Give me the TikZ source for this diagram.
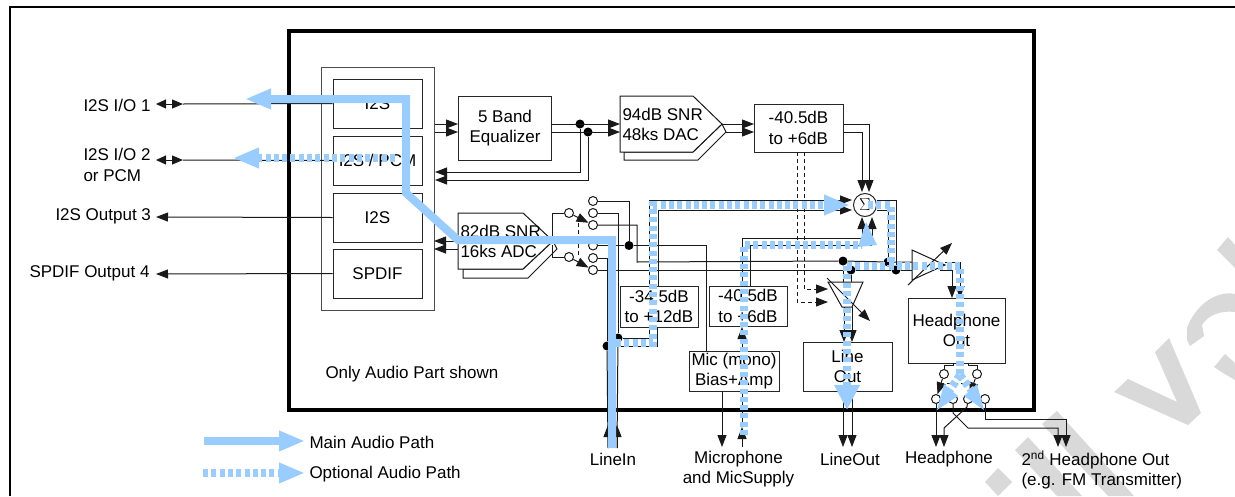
\documentclass[tikz,border=0pt]{standalone}
\usepackage{fontspec}
\setmainfont{Liberation Sans}
\usetikzlibrary{arrows.meta}
\definecolor{pathblue}{HTML}{99CCFF}
\definecolor{markgray}{HTML}{D9D9D9}
\newcommand{\lblfont}{\fontsize{17}{20.5}\selectfont}
\tikzset{
  blk/.style={draw=black!85,line width=1pt,align=center,inner sep=0pt,font=\lblfont},
  lbl/.style={inner sep=0pt,align=left,font=\lblfont},
  dot/.style={circle,fill=black,minimum size=9pt,inner sep=0pt},
  contact/.style={circle,draw=black!90,fill=white,line width=1pt,minimum size=9pt,inner sep=0pt},
  wire/.style={black!90,line width=1pt},
  arr/.style={wire,-{Triangle[length=12pt,width=9pt]}},
  dblarr/.style={wire,{Triangle[length=10pt,width=9pt]}-{Triangle[length=11pt,width=9pt]}},
  shortdash/.style={dash pattern=on 4pt off 3pt},
  mainpath/.style={pathblue,line width=8pt},
  optpath/.style={pathblue,line width=8pt,dash pattern=on 5pt off 3.3pt},
  bighead/.style={-{Triangle[length=26pt,width=19pt]}},
}
\begin{document}
\begin{tikzpicture}[x=1pt,y=-1pt,line width=1pt]
\useasboundingbox (0,0) rectangle (1235,496);
% Watermark pieces
\fill[markgray] (985,482) -- (998,468) -- (1012,482) -- (998,496) -- cycle;
\fill[markgray] (1015,450) -- (1028,437) -- (1082,496) -- (1057,496) -- cycle;
\fill[markgray] (1042,424) -- (1057,411) -- (1134,496) -- (1108,496) -- cycle;
\fill[markgray] (1114,392) -- (1128,379) -- (1177,402) -- (1155,352) -- (1169,338) -- (1201,413) -- (1188,425) -- cycle;
\fill[markgray] (1235,294) .. controls (1217,290) and (1195,305) .. (1187,328) -- (1187,340) -- (1190,346) -- (1204,336) -- (1202,325) .. controls (1207,316) and (1220,310) .. (1235,312) -- cycle;
\fill[markgray] (1235,380) -- (1223,373) -- (1214,367) -- (1225,354) -- (1235,363) -- cycle;
\fill[markgray] (1217,250) -- (1228,237) -- (1235,245) -- (1235,268) -- cycle;
% Frames
\draw[line width=2pt] (10,496) -- (10,7) -- (1235,7);
\draw[line width=4pt] (289,31) rectangle (1034,410);
% Blocks
\node[blk,draw=black!70,minimum width=113pt,minimum height=243pt] (digital) at (377.5,188.5) {};
\node[blk,minimum width=89pt,minimum height=49pt] (i2sA) at (377.5,103.5) {I2S};
\node[blk,minimum width=89pt,minimum height=49pt] (i2sB) at (377.5,160.5) {I2S / PCM};
\node[blk,minimum width=89pt,minimum height=49pt] (i2sC) at (377.5,217.5) {I2S};
\node[blk,minimum width=89pt,minimum height=49pt] (spdif) at (377.5,273.5) {SPDIF};
\node[blk,minimum width=93pt,minimum height=64pt] (eq) at (505,128) {5 Band\\Equalizer};
\node[blk,minimum width=89pt,minimum height=48pt] (gainA) at (798.5,128) {-40.5dB\\to +6dB};
\node[blk,minimum width=78pt,minimum height=41pt] (gainB) at (659,306.5) {-34.5dB\\to +12dB};
\node[blk,minimum width=78pt,minimum height=40pt] (gainC) at (748,306) {-40.5dB\\to +6dB};
\node[blk,minimum width=90pt,minimum height=40pt] (mic) at (734,371) {Mic (mono)\\Bias+Amp};
\node[blk,minimum width=89pt,minimum height=49pt] (lineout) at (847.5,366.5) {Line\\Out};
\node[blk,minimum width=97pt,minimum height=65pt] (hpout) at (956.5,330.5) {Headphone\\Out};
\node[blk,circle,minimum size=23pt,fill=white] (sum) at (865,205) {$\Sigma$};
% DAC and ADC
\draw[wire,fill=white] (624,152) -- (624,160) -- (698,160) -- (726,132) -- (722,124) -- (693,152) -- cycle;
\draw[wire,fill=white] (620,96) -- (693,96) -- (722,124) -- (693,152) -- (620,152) -- cycle;
\draw[wire,fill=white] (463,269) -- (463,278) -- (528,278) -- (557,249) -- (553,241) -- (523,269) -- cycle;
\draw[wire,fill=white] (458,213) -- (523,213) -- (553,241) -- (523,269) -- (458,269) -- cycle;
\node[lbl,anchor=west] (dac) at (622,124.5) {94dB SNR\\48ks DAC};
\node[lbl,anchor=west] (adc) at (460,241.5) {82dB SNR\\16ks ADC};
% Amplifiers
\draw[wire] (828,282) -- (863,282) -- (852,307) -- (842,307) -- cycle;
\draw[wire] (912,250) -- (945,265) -- (912,280) -- cycle;
% Labels
\node[lbl,anchor=west] (ioA) at (83,105) {I2S I/O 1};
\node[lbl,anchor=west] (ioB) at (83,165) {I2S I/O 2\\or PCM};
\node[lbl,anchor=west] (ioC) at (55,216) {I2S Output 3};
\node[lbl,anchor=west] (ioD) at (29,273) {SPDIF Output 4};
\node[lbl,anchor=west] (note) at (325,374) {Only Audio Part shown};
\node[lbl] (linein) at (613,459) {LineIn};
\node[lbl,align=center] (micsup) at (738.5,469) {Microphone\\and MicSupply};
\node[lbl] (lineoutlbl) at (850,459) {LineOut};
\node[lbl] (hplbl) at (949,459) {Headphone};
\node[lbl,anchor=west] (hpsec) at (1021,470) {2\textsuperscript{nd} Headphone Out\\(e.g. FM Transmitter)};
\node[lbl,anchor=west] (lgmain) at (309,442) {Main Audio Path};
\node[lbl,anchor=west] (lgopt) at (309,474) {Optional Audio Path};
% Junctions and contacts
\foreach \n/\x/\y in {dotA/580/124,dotB/588/132,dotC/629/245.5,dotD/843/261,dotE/851/270,dotF/888/262,dotG/896/270,dotH/618/338,dotI/607/346}
  \node[dot] (\n) at (\x,\y) {};
\foreach \n/\x/\y in {cA/593/201,cB/593/213,cC/593/225,cD/593/245.5,cE/593/258,cF/593/270,cL/569/213,cM/569/257,cP/944/374,cQ/977/374,cR/936/399,cS/953/399,cT/968/399,cU/985/399}
  \node[contact] (\n) at (\x,\y) {};
% Connector ends
\foreach \n/\x/\y in {
  endA/156/104,endAb/183/104,endB/156/160,endBb/183/160,endC/156/217,endD/156/274,
  eqinA/458/124,eqinB/458/132,eqoutA/551/124,eqoutB/551/132,dacinA/620/124,dacinB/620/132,
  retA/435/172,retB/435/180,adcoutA/458/241,adcoutB/458/249,digA/434/241,digB/434/249,
  dacoutA/722/124,dacoutB/726/132,gaininA/754/124,gaininB/754/132,gainoutA/843/124,gainoutB/843/132,
  sumtopA/862/192,sumtopB/869/192,dashA/797/152,dashB/804/152,ampinA/828/302,ampinB/828/289,
  gbtopA/649/286,gbtopB/658/286,sumleftA/852/200,sumleftB/852/210,
  gbbotA/649/327,gbbotB/657/327,gctopA/742/286,gctopB/750/286,bendA/862/238,bendB/872/245,sumbotA/862/217,sumbotB/872/217,
  sumoutA/877/200,sumoutB/877/210,adctipA/552/237,adctipB/552/245,
  lampA/843/282,lampB/851/282,lampoutA/844/307,lampoutB/852/307,lineinA/844/342,lineinB/852/342,
  lineoutA/843/391,lineoutB/852/391,lineendA/843/447,lineendB/852/447,
  hpampA/912/262,hpampB/912/270,hpampoutA/945/262,hpampoutB/940/270,hpinA/960/298,hpinB/952/298,
  inA/608/425,inB/617/425,inAb/608/448,inBb/617/448,micA/706/351,micB/722/391,micC/722/447,micD/742/447,micE/742/427,micF/742/391,micG/742/351,micH/742/327,
  hpbotL/953/363,hpbotR/968/363,hpbendL/953/365.5,hpbendR/968/365.5,
  endL/936/447,endM/944/447,endN/1058/447,endO/1066/447,bendS/953/413,bendSb/968/428,bendT/967/407,bendTb/944/428,bendU/985/419,
  volA/827/278,volAb/870/321,volB/908/285,volBb/952/243}
  \coordinate (\n) at (\x,\y);
% Digital side
\draw[dblarr] (endA) -- (endAb);
\draw[dblarr] (endB) -- (endBb);
\draw[wire] (endAb) -- (i2sA.west);
\draw[wire] (endBb) -- (i2sB.west);
\draw[arr] (i2sC.west) -- (endC);
\draw[arr] (spdif.west) -- (endD);
\draw[arr] (digital.east|-eqinA) -- (eqinA);
\draw[arr] (digital.east|-eqinB) -- (eqinB);
\draw[arr] (eqoutA) -- (dacinA);
\draw[arr] (eqoutB) -- (dacinB);
\draw[arr] (dotA) |- (retA);
\draw[arr] (dotB) |- (retB);
\draw[arr] (adcoutA) -- (digA);
\draw[arr] (adcoutB) -- (digB);
% DAC to mixer
\draw[arr] (dacoutA) -- (gaininA);
\draw[arr] (dacoutB) -- (gaininB);
\draw[arr] (gainoutA) -| (sumtopB);
\draw[arr] (gainoutB) -| (sumtopA);
\draw[arr,shortdash] (dashB) |- (ampinB);
\draw[arr,shortdash] (dashA) |- (ampinA);
% Input switch
\draw[wire] (adctipA) |- (cL);
\draw[wire] (adctipB) |- (cM);
\draw[arr] (cL) -- (cC);
\draw[arr] (cM) -- (cF);
\draw[wire,shortdash] (578,223) -- (578,255);
\draw[wire] (cA) -| (dotC);
\draw[wire] (cB) -| (dotH);
\draw[wire] (dotH) -- (inBb);
\draw[wire] (cD) -- (dotC) -| (micA);
\draw[wire] (cE) -| (dotI);
\draw[wire] (dotI) -- (inAb);
\draw[wire] (cC) -| (637,262) -- (dotD);
\draw[wire] (cF) -- (dotE);
\draw[wire] (dotD) -- (dotF) -- (hpampA);
\draw[wire] (dotE) -- (dotG) -- (hpampB);
\draw[arr] (inAb) -- (inA);
\draw[arr] (inBb) -- (inB);
\draw[wire] (dotH) -| (gbbotA);
\draw[wire] (dotI) -| (gbbotB);
% Gain stages to mixer
\draw[arr] (gbtopA) |- (sumleftA);
\draw[arr] (gbtopB) |- (sumleftB);
\draw[wire] (gctopA) |- (bendA);
\draw[wire] (gctopB) |- (bendB);
\draw[arr] (bendA) -- (sumbotA);
\draw[arr] (bendB) -- (sumbotB);
\draw[wire] (sumoutA) -| (dotG);
\draw[wire] (sumoutB) -| (dotF);
% Mic
\draw[arr] (micB) -- (micC);
\draw[arr] (micD) -- (micE);
\draw[wire] (micE) -- (micF);
\draw[arr] (micG) -- (micH);
% Line out
\draw[wire] (dotD) -- (lampA);
\draw[wire] (dotE) -- (lampB);
\draw[arr] (lampoutA) -- (lineinA);
\draw[arr] (lampoutB) -- (lineinB);
\draw[arr] (lineoutA) -- (lineendA);
\draw[arr] (lineoutB) -- (lineendB);
\draw[arr] (volA) -- (volAb);
% Headphone
\draw[arr] (volB) -- (volBb);
\draw[arr] (hpampoutA) -| (hpinA);
\draw[arr] (hpampoutB) -| (hpinB);
\draw[wire] (hpbotL) -- (hpbendL) -| (cP);
\draw[wire] (hpbotR) -- (hpbendR) -| (cQ);
\draw[arr] (cP) -- (cR);
\draw[arr] (cQ) -- (cT);
\draw[wire,shortdash] (940,383) -- (975,383);
\draw[arr] (cR) -- (endL);
\draw[arr] (cS) -- (bendS) -- (bendSb) -| (endN);
\draw[arr] (cT) -- (bendT) -- (bendTb) -- (endM);
\draw[arr] (cU) |- (bendU) -| (endO);
% Main audio path
\draw[mainpath,bighead] (612,448) -- (612,240) -- (458,240) -- (406,193) -- (406,99) -- (245,99);
% Optional audio paths
\draw[optpath,bighead] (395,158) -- (233,158);
\draw[optpath,bighead] (616,343) -- (653,343) -- (653,205) -- (850,205);
\draw[optpath] (744,435) -- (744,245) -- (862,245);
\fill[pathblue] (858,247) -- (877,245) -- (866,222) -- cycle;
\draw[optpath] (868,205) -- (891,205) -- (891,266);
\draw[optpath] (847,266) -- (960,266) -- (960,375);
\draw[optpath,-{Triangle[length=25pt,width=24pt]}] (847,266) -- (847,410);
\draw[optpath] (960,375) -- (950,390);
\draw[optpath] (960,375) -- (971,390);
\fill[pathblue] (944,384) -- (958,396) -- (937,410) -- cycle;
\fill[pathblue] (977,384) -- (964,396) -- (984,410) -- cycle;
% Legend
\draw[mainpath,bighead] (204,441) -- (305,441);
\draw[optpath,bighead] (203,473) -- (305,473);
\end{tikzpicture}
\end{document}
